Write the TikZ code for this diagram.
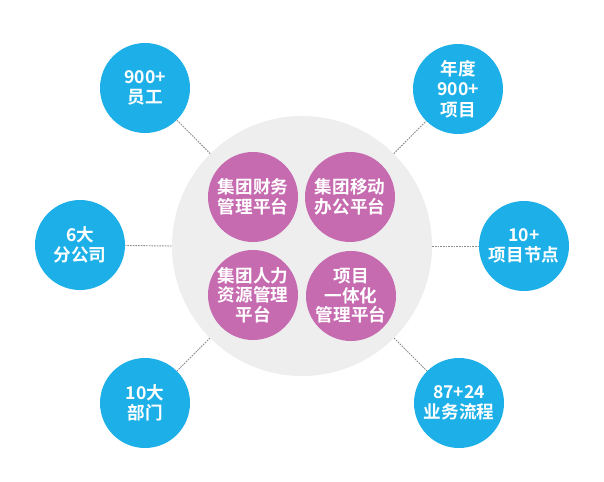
\documentclass[tikz,border=0pt]{standalone}
\usepackage{fontspec}
\setmainfont{Noto Sans CJK SC}
\newfontfamily\cjkbold{Noto Sans CJK SC}[BoldFont={* Bold}]
\definecolor{hubgrey}{HTML}{EEEEEF}
\definecolor{dotblue}{HTML}{1DB0E8}
\definecolor{platpink}{HTML}{C66BB0}
\definecolor{linegrey}{HTML}{8A8A8A}
\begin{document}
\begin{tikzpicture}[x=0.75pt,y=-0.75pt,
  hubcircle/.style={circle,fill=hubgrey,minimum size=260*0.75pt,inner sep=0pt},
  bluedot/.style={circle,fill=dotblue,minimum size=90*0.75pt,inner sep=0pt,text=white,align=center,
    font=\cjkbold\bfseries\fontsize{13.2pt}{15.2pt}\selectfont},
  pinkdot/.style={circle,fill=platpink,minimum size=90*0.75pt,inner sep=0pt,text=white,align=center,
    font=\cjkbold\bfseries\fontsize{13.2pt}{14.6pt}\selectfont},
  conn/.style={draw=linegrey,line width=0.7pt,dash pattern=on 1.2pt off 0.8pt}]
\useasboundingbox[fill=white] (0,0) rectangle (604,482);
\node[hubcircle] (hub) at (302,246) {};
\node[pinkdot] (p1) at (253,197) {集团财务\\管理平台};
\node[pinkdot] (p2) at (350,197) {集团移动\\办公平台};
\node[pinkdot] (p3) at (253,295) {集团人力\\资源管理\\平台};
\node[pinkdot] (p4) at (351,296) {项目\\一体化\\管理平台};
\node[bluedot] (b1) at (145,88) {900+\\员工};
\node[bluedot] (b2) at (458,89) {年度\\900+\\项目};
\node[bluedot] (b3) at (80,245) {6大\\分公司};
\node[bluedot] (b4) at (524,246) {10+\\项目节点};
\node[bluedot] (b5) at (145,403) {10大\\部门};
\node[bluedot] (b6) at (459,403) {87+24\\业务流程};
\draw[conn] (hub) -- (b1);
\draw[conn] (hub) -- (b2);
\draw[conn] (hub.west) -- (b3);
\draw[conn] (hub.east) -- (b4);
\draw[conn] (hub) -- (b5);
\draw[conn] (hub) -- (b6);
\end{tikzpicture}
\end{document}
